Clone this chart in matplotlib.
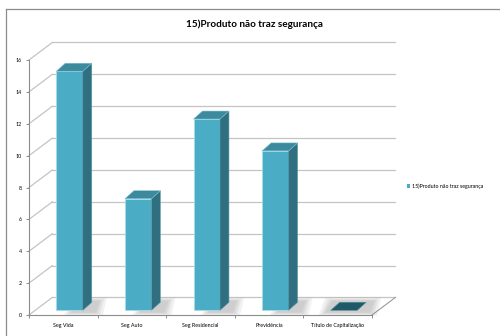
import matplotlib.pyplot as plt
from matplotlib.patches import Polygon, Rectangle
from matplotlib.lines import Line2D
import numpy as np

# Chart data
categories = ["Seg Vida", "Seg Auto", "Seg Residencial", "Previdência", "Título de Capitalização"]
values = [15, 7, 12, 10, 0]
y_ticks = [0, 2, 4, 6, 8, 10, 12, 14, 16]
series_name = "15)Produto não traz segurança"
title = "15)Produto não traz segurança"

plt.rcParams['font.family'] = ['Lato', 'DejaVu Sans']

front_c = '#4bacc6'
side_c = '#2f6f80'
top_c = '#3b8a9e'
zero_c = '#215968'
grid_c = '#c4c4c4'

fig = plt.figure(figsize=(5, 3.36), dpi=100)
ax = fig.add_axes([29 / 500, 21 / 336, 343 / 500, 255 / 336])
ax.set_xlim(-0.5, len(categories) - 0.5)
ax.set_ylim(0, 16)

# depth of the 3D box and of the bars, in data units
dx, dy = 0.34, 1.1
bdx, bdy = 0.13, 0.5
bw = 0.386
f = 0.27
x_lo, x_hi = -0.5, len(categories) - 0.5

# back wall gridlines and left wall diagonals
for t in y_ticks:
    ax.plot([x_lo + dx, x_hi + dx], [t + dy, t + dy], color=grid_c, lw=0.9, zorder=1, clip_on=False)
    ax.plot([x_lo, x_lo + dx], [t, t + dy], color=grid_c, lw=0.9, zorder=1, clip_on=False)
# floor right edge
ax.plot([x_hi, x_hi + dx], [0, dy], color='#9a9a9a', lw=0.8, zorder=1, clip_on=False)

# bars
for i, v in enumerate(values):
    x0 = i - bw / 2 + f * dx
    y0 = f * dy
    # soft shadow on the floor, stacked translucent layers
    left = x0 - 0.08 if v == 0 else x0 + bw * 0.55
    for g in [0.10, 0.06, 0.03, 0.0]:
        ax.add_patch(Polygon([(left - g, y0 - 0.15 - g * 2),
                              (x0 + bw + bdx + 0.06 + g, y0 - 0.15 - g * 2),
                              (x0 + bw + bdx + 0.12 + g, y0 + bdy + 0.1 + g * 2),
                              (left + 0.1 - g, y0 + bdy + 0.1 + g * 2)],
                             closed=True, fc='#6a6a6a', ec='none', alpha=0.09, zorder=2, clip_on=False))
    if v > 0:
        ax.add_patch(Rectangle((x0, y0), bw, v, fc=front_c, ec='#a8dbe8', lw=0.6, zorder=3, clip_on=False))
        ax.add_patch(Polygon([(x0 + bw, y0), (x0 + bw + bdx, y0 + bdy),
                              (x0 + bw + bdx, y0 + bdy + v), (x0 + bw, y0 + v)],
                             closed=True, fc=side_c, ec='#5a9aab', lw=0.4, zorder=3, clip_on=False))
        ax.add_patch(Polygon([(x0, y0 + v), (x0 + bw, y0 + v),
                              (x0 + bw + bdx, y0 + v + bdy), (x0 + bdx, y0 + v + bdy)],
                             closed=True, fc=top_c, ec='#7cc0d0', lw=0.4, zorder=3, clip_on=False))
    else:
        ax.add_patch(Polygon([(x0, y0), (x0 + bw, y0),
                              (x0 + bw + bdx, y0 + bdy), (x0 + bdx, y0 + bdy)],
                             closed=True, fc=zero_c, ec='#4a8a9a', lw=0.4, zorder=3, clip_on=False))

# axes styling
for s in ['top', 'right']:
    ax.spines[s].set_visible(False)
for s in ['left', 'bottom']:
    ax.spines[s].set_color('#8c8c8c')
    ax.spines[s].set_linewidth(0.8)
ax.set_yticks(y_ticks)
ax.set_yticklabels([str(t) for t in y_ticks])
ax.set_xticks(np.arange(len(categories)))
ax.set_xticklabels(categories)
ax.set_xticks(np.arange(len(categories) + 1) - 0.5, minor=True)
ax.tick_params(axis='x', which='major', length=0, labelsize=3.9, pad=6)
ax.tick_params(axis='x', which='minor', length=2.5, color='#8c8c8c', width=0.7)
ax.tick_params(axis='y', length=2, color='#8c8c8c', width=0.7, labelsize=3.9, pad=3)
ax.patch.set_alpha(0)

# title
fig.text(254 / 500, 1 - 24 / 336, title, ha='center', va='center',
         fontsize=7.2, fontweight='bold', color='black')

# legend
fig.legend(handles=[Rectangle((0, 0), 1, 1, fc=front_c)], labels=[series_name],
           loc='center left', bbox_to_anchor=(407 / 500, 1 - 186 / 336), frameon=False,
           fontsize=3.8, handlelength=0.6, handleheight=0.6, handletextpad=0.4,
           borderpad=0, borderaxespad=0)

# chart area frame
fig.add_artist(Line2D([6 / 500, 1], [1 - 9 / 336, 1 - 9 / 336], transform=fig.transFigure,
                      color='#8c8c8c', lw=0.9))
fig.add_artist(Line2D([6 / 500, 6 / 500], [0, 1 - 9 / 336], transform=fig.transFigure,
                      color='#8c8c8c', lw=0.9))

fig.savefig('out.png', dpi=100)
